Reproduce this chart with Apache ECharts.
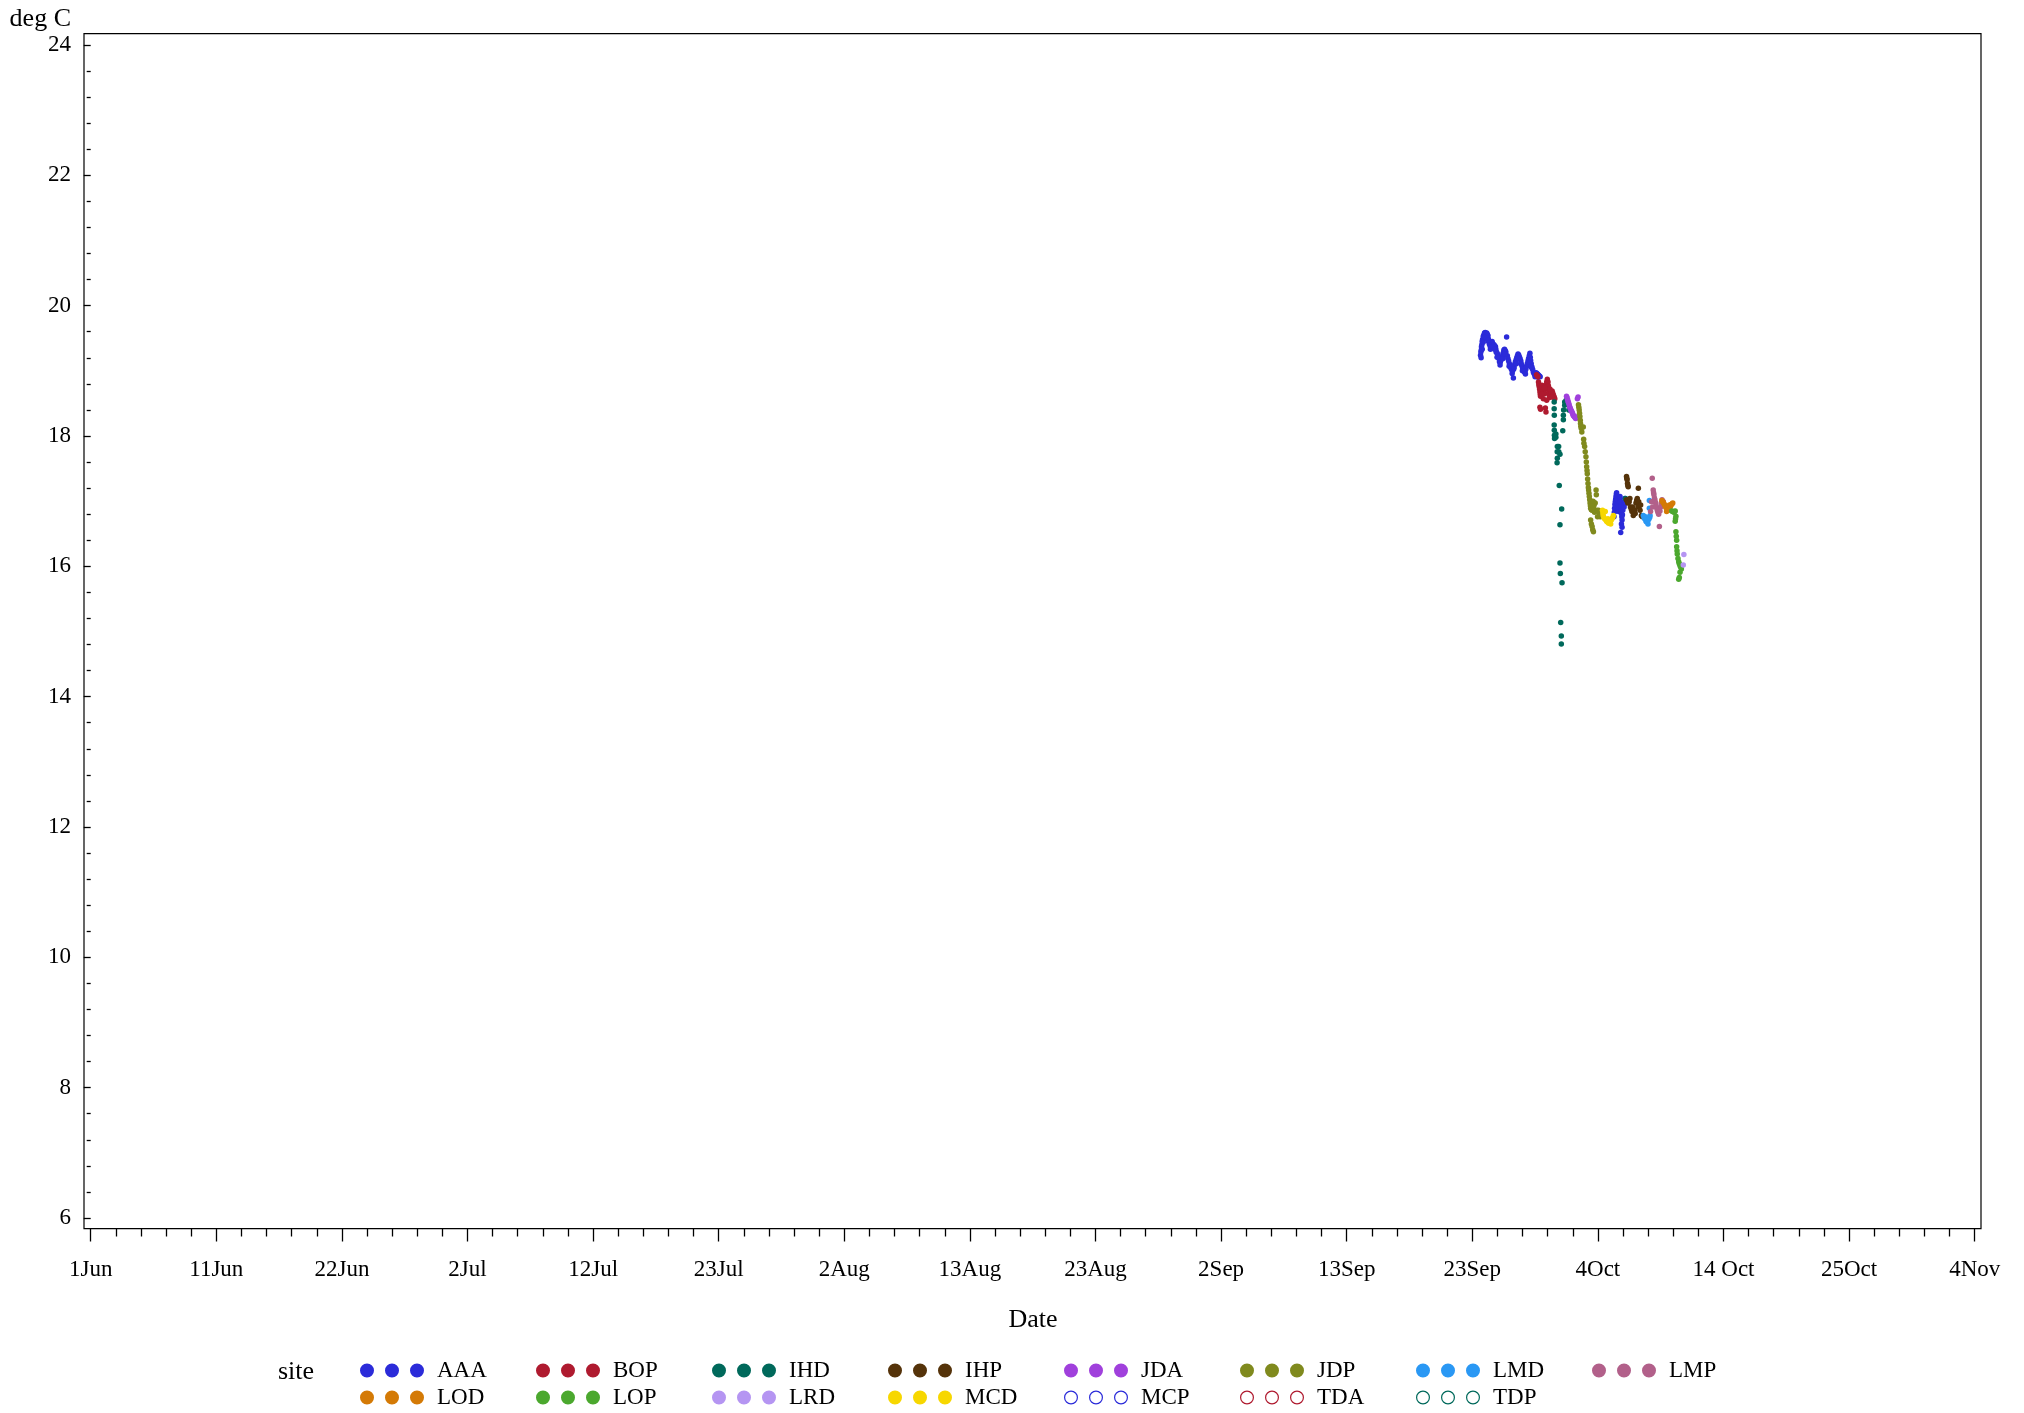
<!DOCTYPE html>
<html lang="en">
<head>
<meta charset="UTF-8">
<title>Temperature by site</title>
<style>
  html, body { margin: 0; padding: 0; background: #fff; }
  #main { width: 2024px; height: 1413px; }
</style>
</head>
<body>
<script src="https://cdn.jsdelivr.net/npm/echarts@6/dist/echarts.min.js"></script>
<div id="main"></div>
<script>
// x values are days after 1 Jun, y values are deg C
var xTickLabels = ['1Jun', '11Jun', '22Jun', '2Jul', '12Jul', '23Jul', '2Aug', '13Aug',
    '23Aug', '2Sep', '13Sep', '23Sep', '4Oct', '14 Oct', '25Oct', '4Nov'];
var xMin = 0, xMax = 156, xStep = 10.4;
var yMin = 6, yMax = 24, yStep = 2;

var sites = ['AAA', 'BOP', 'IHD', 'IHP', 'JDA', 'JDP', 'LMD', 'LMP',
    'LOD', 'LOP', 'LRD', 'MCD', 'MCP', 'TDA', 'TDP'];
var siteColors = ['#2b2bd9', '#af1a2f', '#00695b', '#55330a', '#a040dc', '#808a1e', '#2a98f4', '#b2608a',
    '#d47a06', '#4ba82e', '#b595f2', '#f7d700', '#2b2bd9', '#af1a2f', '#00695b'];
var hollowSites = ['MCP', 'TDA', 'TDP'];
// legend columns, top row then bottom row
var legendCols = [['AAA', 'LOD'], ['BOP', 'LOP'], ['IHD', 'LRD'], ['IHP', 'MCD'],
    ['JDA', 'MCP'], ['JDP', 'TDA'], ['LMD', 'TDP'], ['LMP']];

var aaa = [
    [115.08,19.24],[115.11,19.29],[115.14,19.32],[115.16,19.37],[115.19,19.40],[115.22,19.45],[115.25,19.48],[115.31,19.53],
    [115.36,19.55],[115.41,19.58],[115.47,19.59],[115.53,19.57],[115.59,19.58],[115.64,19.56],[115.70,19.54],[115.73,19.49],
    [115.75,19.45],[115.81,19.41],[115.87,19.38],[115.92,19.41],[115.98,19.43],[116.04,19.45],[116.09,19.42],[116.15,19.39],
    [116.20,19.40],[116.26,19.38],[116.32,19.37],[116.35,19.33],[116.37,19.29],[116.43,19.28],[116.48,19.26],[116.54,19.22],
    [116.60,19.19],[116.65,19.14],[116.71,19.13],[116.76,19.16],[116.82,19.19],[116.88,19.22],[116.93,19.26],[116.99,19.29],
    [117.02,19.32],[117.07,19.33],[117.13,19.31],[117.18,19.29],[117.24,19.52],[117.30,19.23],[117.35,19.19],[117.41,19.15],
    [117.47,19.11],[117.52,19.08],[117.58,19.05],[117.63,19.03],[117.69,19.01],[117.74,19.00],[117.80,18.89],[117.83,19.03],
    [117.86,19.05],[117.91,19.10],[117.97,19.14],[118.03,19.17],[118.08,19.20],[118.14,19.23],[118.19,19.26],[118.25,19.24],
    [118.31,19.21],[118.36,19.18],[118.42,19.15],[118.45,19.11],[118.50,19.08],[118.56,19.05],[118.61,19.02],[118.67,19.00],
    [118.73,18.98],[118.78,19.00],[118.84,19.03],[118.90,19.07],[118.95,19.11],[119.01,19.15],[119.06,19.19],[119.12,19.23],
    [119.17,19.27],[119.20,19.21],[119.23,19.16],[119.28,19.11],[119.34,19.06],[119.40,19.02],[119.46,18.98],[119.51,18.96],
    [119.57,18.94],[119.62,18.96],[119.68,18.97],[119.74,18.96],[119.79,18.95],[119.85,18.94],[119.90,18.93],[119.96,18.92],
    [120.02,18.91],
    [115.13,19.20],[115.22,19.33],[115.30,19.44],[115.45,19.51],[115.58,19.50],[115.68,19.47],[115.90,19.33],[116.05,19.37],
    [116.25,19.33],[116.45,19.21],[116.70,19.09],[116.95,19.19],[117.10,19.26],[117.45,19.07],[117.70,18.96],[118.05,19.11],
    [118.20,19.19],[118.55,19.00],[118.80,18.95],[119.05,19.13],[119.30,19.05],[119.60,18.91],[119.85,18.90],
    [126.13,16.76],[126.16,16.83],[126.18,16.89],[126.21,16.95],[126.24,16.99],[126.27,17.03],[126.30,17.07],[126.33,17.11],
    [126.35,17.13],[126.38,17.07],[126.41,17.02],[126.44,16.96],[126.47,16.91],[126.50,16.87],[126.52,16.84],[126.55,16.91],
    [126.58,16.97],[126.61,17.02],[126.63,17.07],[126.66,16.99],[126.69,16.91],[126.72,16.85],[126.75,16.81],[126.78,16.76],
    [126.80,16.71],[126.83,16.79],[126.86,16.86],[126.89,16.91],[126.91,16.97],[126.94,16.94],[126.97,16.91],[127.00,16.97],
    [127.03,17.04],[127.06,16.99],[127.08,16.97],[126.75,16.65],[126.80,16.60],[126.69,16.52]
];
var bop = [
    [119.72,18.94],[119.78,18.92],[119.83,18.91],[119.88,18.83],[119.91,18.79],[119.94,18.76],[119.97,18.72],[120.00,18.68],
    [120.03,18.64],[120.05,18.61],[120.08,18.67],[120.11,18.73],[120.14,18.76],[120.17,18.78],[120.22,18.74],[120.28,18.71],
    [120.33,18.68],[120.39,18.65],[120.44,18.72],[120.50,18.78],[120.56,18.83],[120.61,18.87],[120.67,18.83],[120.70,18.77],
    [120.73,18.70],[120.76,18.64],[120.78,18.59],[120.84,18.62],[120.90,18.65],[120.95,18.67],[121.01,18.69],[121.06,18.66],
    [121.12,18.63],[121.18,18.60],[121.23,18.57],[120.00,18.44],[120.05,18.41],[120.45,18.43],[120.50,18.37],[120.28,18.57],
    [120.56,18.55],[120.16,18.64],[120.38,18.74],[120.83,18.72],[120.98,18.60]
];
var ihd = [
    [121.18,18.52],[121.18,18.42],[121.19,18.32],[121.18,18.17],[121.19,18.09],[121.20,18.01],[121.21,17.96],[121.32,18.03],
    [121.32,17.98],[121.44,17.84],[121.43,17.76],[121.44,17.66],[121.42,17.59],[121.55,17.84],[121.56,17.76],[121.66,17.72],
    [121.60,17.24],[121.80,16.88],[121.66,16.64],[121.66,16.05],[121.69,15.89],[121.83,15.75],[121.72,15.14],[121.77,14.93],
    [121.77,14.81],[121.89,18.08],[121.94,18.25],[121.94,18.32],[121.96,18.40],[122.05,18.47],[122.05,18.52],[122.17,18.55],
    [122.28,18.50],[122.39,18.40],[127.08,17.04]
];
var ihp = [
    [127.17,17.38],[127.19,17.35],[127.22,17.33],[127.25,17.27],[127.28,17.24],[127.31,17.22],[127.17,17.02],[127.23,17.00],
    [127.28,16.97],[127.33,16.98],[127.39,16.99],[127.45,17.04],[127.50,16.91],[127.56,16.88],[127.62,16.84],[127.67,16.91],
    [127.73,16.78],[127.78,16.82],[127.84,16.86],[127.89,16.81],[127.95,16.97],[128.01,17.01],[128.06,17.04],[128.12,16.91],
    [128.15,17.20],[128.18,16.99],[128.23,16.93],[128.29,16.86],[128.34,16.94],[128.40,16.78],[128.45,16.77],[128.51,16.76]
];
var jda = [
    [122.20,18.61],[122.24,18.59],[122.29,18.56],[122.33,18.53],[122.37,18.51],[122.42,18.48],[122.46,18.45],[122.50,18.43],
    [122.54,18.41],[122.58,18.39],[122.62,18.38],[122.67,18.36],[122.71,18.34],[122.75,18.32],[122.79,18.31],[122.84,18.30],
    [122.88,18.29],[122.92,18.28],[122.96,18.27],[123.00,18.28],[123.05,18.29],[123.16,18.60],[123.10,18.57]
];
var jdp = [
    [123.19,18.48],[123.22,18.44],[123.25,18.40],[123.28,18.35],[123.31,18.30],[123.34,18.24],[123.36,18.19],[123.39,18.15],
    [123.42,18.12],[123.47,18.06],[123.59,18.14],[123.62,17.95],[123.64,17.89],[123.70,17.84],[123.75,17.76],[123.81,17.68],
    [123.84,17.60],[123.87,17.53],[123.90,17.47],[123.92,17.42],[123.95,17.34],[123.98,17.27],[124.01,17.21],[124.03,17.17],
    [124.06,17.12],[124.09,17.07],[124.12,17.02],[124.15,16.97],[124.18,16.93],[124.20,16.89],[124.26,16.87],[124.32,16.86],
    [124.37,16.89],[124.43,16.91],[124.48,16.94],[124.54,16.97],[124.57,16.97],[124.65,17.17],[124.67,17.10],[124.71,16.86],
    [124.77,16.76],[124.20,16.71],[124.26,16.65],[124.32,16.61],[124.37,16.56],[124.43,16.53],[124.85,16.86],[124.99,16.76],
    [125.10,16.81],[124.24,17.00],[124.30,16.95],[124.40,17.00],[124.52,16.83],[124.92,16.81]
];
var lmd = [
    [128.56,16.78],[128.62,16.75],[128.67,16.73],[128.73,16.76],[128.78,16.69],[128.84,16.68],[128.90,16.68],[128.95,16.65],
    [129.01,16.72],[129.06,16.89],[129.06,17.01],[129.09,16.75],[129.12,16.78]
];
var lmp = [
    [129.16,16.84],[129.24,16.99],[129.30,17.35],[129.33,16.91],[129.38,17.17],[129.41,17.13],[129.44,17.10],[129.48,17.05],
    [129.52,17.02],[129.57,16.98],[129.61,16.94],[129.66,16.90],[129.72,16.86],[129.77,16.83],[129.83,16.80],[129.89,16.61],
    [129.94,16.85],[130.00,16.91],[130.05,16.97],[130.11,17.02],[130.17,17.00],[130.22,16.99]
];
var lod = [
    [130.10,17.01],[130.16,16.99],[130.21,16.98],[130.27,16.96],[130.33,16.94],[130.38,16.92],[130.44,16.90],[130.49,16.84],
    [130.55,16.86],[130.61,16.86],[130.66,16.87],[130.72,16.94],[130.78,16.91],[130.83,16.93],[130.89,16.95],[130.94,16.96],
    [131.00,16.97]
];
var lop = [
    [130.92,16.85],[130.99,16.84],[131.09,16.83],[131.15,16.84],[131.20,16.85],[131.26,16.77],[131.23,16.73],[131.20,16.69],
    [131.26,16.53],[131.29,16.46],[131.32,16.40],[131.32,16.30],[131.35,16.24],[131.37,16.19],[131.43,16.12],[131.49,16.07],
    [131.54,16.04],[131.60,16.01],[131.65,15.99],[131.71,15.96],[131.60,15.91],[131.54,15.83],[131.49,15.80]
];
var lrd = [[131.92,16.18],[131.87,16.02]];
var mcd = [
    [125.18,16.86],[125.21,16.82],[125.24,16.78],[125.29,16.75],[125.35,16.73],[125.41,16.84],[125.46,16.71],[125.52,16.69],
    [125.58,16.68],[125.63,16.73],[125.69,16.66],[125.75,16.67],[125.80,16.68],[125.86,16.65],[125.91,16.71],[125.97,16.73],
    [126.03,16.75],[126.08,16.78]
];
var mcp = [], tda = [], tdp = [];

var siteData = {
    AAA: aaa, BOP: bop, IHD: ihd, IHP: ihp, JDA: jda, JDP: jdp, LMD: lmd, LMP: lmp,
    LOD: lod, LOP: lop, LRD: lrd, MCD: mcd, MCP: mcp, TDA: tda, TDP: tdp
};

var serif = '"Liberation Serif", "DejaVu Serif", serif';

// legend icons: three dots, filled or hollow
function dotsIcon(hollow) {
    var p = 'path://';
    [7, 32, 57].forEach(function (cx) {
        p += 'M' + (cx - 7) + ',7a7,7 0 1,0 14,0a7,7 0 1,0 -14,0z';
        if (hollow) p += 'M' + (cx - 5.8) + ',7a5.8,5.8 0 1,1 11.6,0a5.8,5.8 0 1,1 -11.6,0z';
    });
    return p;
}

var series = sites.map(function (name, i) {
    var hollow = hollowSites.indexOf(name) >= 0;
    return {
        name: name,
        type: 'scatter',
        xAxisIndex: 1,
        yAxisIndex: 1,
        symbol: hollow ? 'emptyCircle' : 'circle',
        symbolSize: 5.5,
        itemStyle: { color: siteColors[i], opacity: 1 },
        emphasis: { disabled: true },
        data: siteData[name]
    };
});

var legends = legendCols.map(function (col, k) {
    return {
        orient: 'vertical',
        left: 360 + k * 176,
        top: 1357,
        padding: 0,
        itemGap: 0,
        itemWidth: 80,
        itemHeight: 14,
        symbolKeepAspect: true,
        selectedMode: false,
        icon: dotsIcon(false),
        textStyle: { fontFamily: serif, fontSize: 23, color: '#000', lineHeight: 27 },
        data: col.map(function (n) {
            return hollowSites.indexOf(n) >= 0 ? { name: n, icon: dotsIcon(true) } : { name: n };
        })
    };
});

var chart = echarts.init(document.getElementById('main'));
chart.setOption({
    animation: false,
    backgroundColor: '#fff',
    textStyle: { fontFamily: serif },
    grid: [
        // frame around the plot
        { left: 84, top: 33.7, right: 43, bottom: 184.3, show: true, borderColor: '#000', borderWidth: 1.2,
          backgroundColor: 'transparent', outerBoundsMode: 'none' },
        // data area
        { left: 90.7, top: 45, right: 49.3, bottom: 195, outerBoundsMode: 'none' }
    ],
    xAxis: [
        { gridIndex: 0, type: 'value', show: false, min: 0, max: 1 },
        {
            gridIndex: 1, type: 'value', min: xMin, max: xMax, interval: xStep,
            position: 'bottom', offset: 10.5,
            axisLine: { show: false },
            axisTick: { show: true, length: 13, lineStyle: { color: '#000', width: 1.3 } },
            minorTick: { show: true, splitNumber: 5, length: 8, lineStyle: { color: '#000', width: 1.3 } },
            splitLine: { show: false },
            axisLabel: {
                margin: 30, color: '#000', fontSize: 23, fontFamily: serif,
                formatter: function (v) { return xTickLabels[Math.round(v / xStep)]; }
            }
        }
    ],
    yAxis: [
        { gridIndex: 0, type: 'value', show: false, min: 0, max: 1 },
        {
            gridIndex: 1, type: 'value', min: yMin, max: yMax, interval: yStep,
            position: 'left', offset: 6.7,
            axisLine: { show: false },
            axisTick: { show: true, length: 7, lineStyle: { color: '#000', width: 1.3 } },
            minorTick: { show: true, splitNumber: 5, length: 4, lineStyle: { color: '#000', width: 1.3 } },
            splitLine: { show: false },
            axisLabel: { margin: 13, color: '#000', fontSize: 23, fontFamily: serif, padding: [4, 0, 0, 0] }
        }
    ],
    legend: legends,
    graphic: [
        { type: 'text', x: 71, y: 19, style: { text: 'deg C', align: 'right', verticalAlign: 'middle',
            font: '26px ' + serif, fill: '#000' } },
        { type: 'text', x: 1033, y: 1320, style: { text: 'Date', align: 'center', verticalAlign: 'middle',
            font: '26px ' + serif, fill: '#000' } },
        { type: 'text', x: 278, y: 1372, style: { text: 'site', align: 'left', verticalAlign: 'middle',
            font: '26px ' + serif, fill: '#000' } }
    ],
    series: series
});
</script>
</body>
</html>
